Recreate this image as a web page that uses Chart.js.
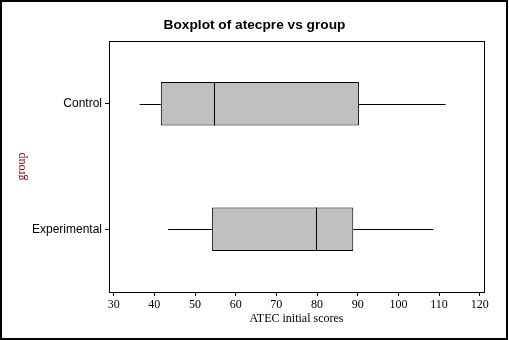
<!DOCTYPE html>
<html>
<head>
<meta charset="utf-8">
<title>Boxplot of atecpre vs group</title>
<script src="https://cdn.jsdelivr.net/npm/chart.js@4.4.1/dist/chart.umd.min.js"></script>
<style>
  html, body { margin: 0; padding: 0; background: #fff; }
  canvas { display: block; }
</style>
</head>
<body>
<canvas id="box" width="509" height="340"></canvas>
<script>
// five-number summaries per group
const groups = ["Control", "Experimental"];
const whiskerLow = [36.4, 43.4];
const q1 = [41.6, 54.2];
const median = [54.6, 79.8];
const q3 = [90.3, 88.9];
const whiskerHigh = [111.6, 108.6];
const xTicks = [30, 40, 50, 60, 70, 80, 90, 100, 110, 120];
const chartTitle = "Boxplot of atecpre vs group";

// whiskers, medians, plot frame, outer border and the title centred on the canvas
const boxExtras = {
  id: "boxExtras",
  afterDatasetsDraw(chart) {
    const { ctx, chartArea, scales } = chart;
    const x = scales.x, y = scales.y;
    ctx.save();
    ctx.strokeStyle = "#000";
    ctx.lineWidth = 1;
    const meta = chart.getDatasetMeta(0);
    groups.forEach((g, i) => {
      const cy = Math.round(y.getPixelForValue(i)) + 0.5;
      const bar = meta.data[i];
      const half = bar.height / 2;
      ctx.beginPath();
      ctx.moveTo(x.getPixelForValue(whiskerLow[i]), cy);
      ctx.lineTo(x.getPixelForValue(q1[i]), cy);
      ctx.moveTo(x.getPixelForValue(q3[i]), cy);
      ctx.lineTo(x.getPixelForValue(whiskerHigh[i]), cy);
      const mx = Math.round(x.getPixelForValue(median[i])) + 0.5;
      ctx.moveTo(mx, bar.y - half);
      ctx.lineTo(mx, bar.y + half);
      ctx.stroke();
    });
    ctx.strokeRect(Math.round(chartArea.left) + 0.5, Math.round(chartArea.top) + 0.5,
      Math.round(chartArea.right - chartArea.left), Math.round(chartArea.bottom - chartArea.top));
    ctx.lineWidth = 2;
    ctx.strokeRect(1, 1, 506, 338);

    ctx.fillStyle = "#000";
    ctx.font = "bold 13.7px 'Liberation Sans', Arial, sans-serif";
    ctx.textAlign = "center";
    ctx.textBaseline = "middle";
    ctx.fillText(chartTitle, chart.width / 2, 25);
    ctx.restore();
  }
};

new Chart(document.getElementById("box"), {
  type: "bar",
  data: {
    labels: groups,
    datasets: [{
      data: groups.map((g, i) => [q1[i], q3[i]]),
      backgroundColor: "#c0c0c0",
      borderColor: "#000",
      borderWidth: 1,
      borderSkipped: false,
      barPercentage: 0.345,
      categoryPercentage: 1
    }]
  },
  options: {
    indexAxis: "y",
    responsive: false,
    animation: false,
    layout: { padding: { left: 0, right: 25, top: 41, bottom: 14 } },
    plugins: {
      legend: { display: false },
      tooltip: { enabled: false },
      title: { display: false }
    },
    scales: {
      x: {
        type: "linear",
        min: 28.85,
        max: 121.05,
        afterBuildTicks: (scale) => { scale.ticks = xTicks.map(v => ({ value: v })); },
        afterFit: (scale) => { scale.height = 34; },
        grid: { drawOnChartArea: false, drawTicks: true, tickLength: 4, color: "#000" },
        border: { display: false },
        ticks: {
          color: "#000",
          padding: 2,
          maxRotation: 0,
          font: { family: "'Liberation Serif', 'Times New Roman', serif", size: 12 }
        },
        title: {
          display: true,
          text: "ATEC initial scores",
          color: "#000",
          font: { family: "'Liberation Serif', 'Times New Roman', serif", size: 12 },
          padding: { top: 0, bottom: 0 }
        }
      },
      y: {
        type: "category",
        afterFit: (scale) => { scale.width = 109; },
        grid: { drawOnChartArea: false, drawTicks: true, tickLength: 4, color: "#000", offset: false },
        border: { display: false },
        ticks: {
          color: "#000",
          padding: 3,
          font: { family: "'Liberation Sans', Arial, sans-serif", size: 12 }
        },
        title: {
          display: true,
          text: "group",
          color: "#800000",
          font: { family: "'Liberation Serif', 'Times New Roman', serif", size: 12 },
          padding: { top: 15, bottom: 0 }
        }
      }
    }
  },
  plugins: [boxExtras]
});
</script>
</body>
</html>
